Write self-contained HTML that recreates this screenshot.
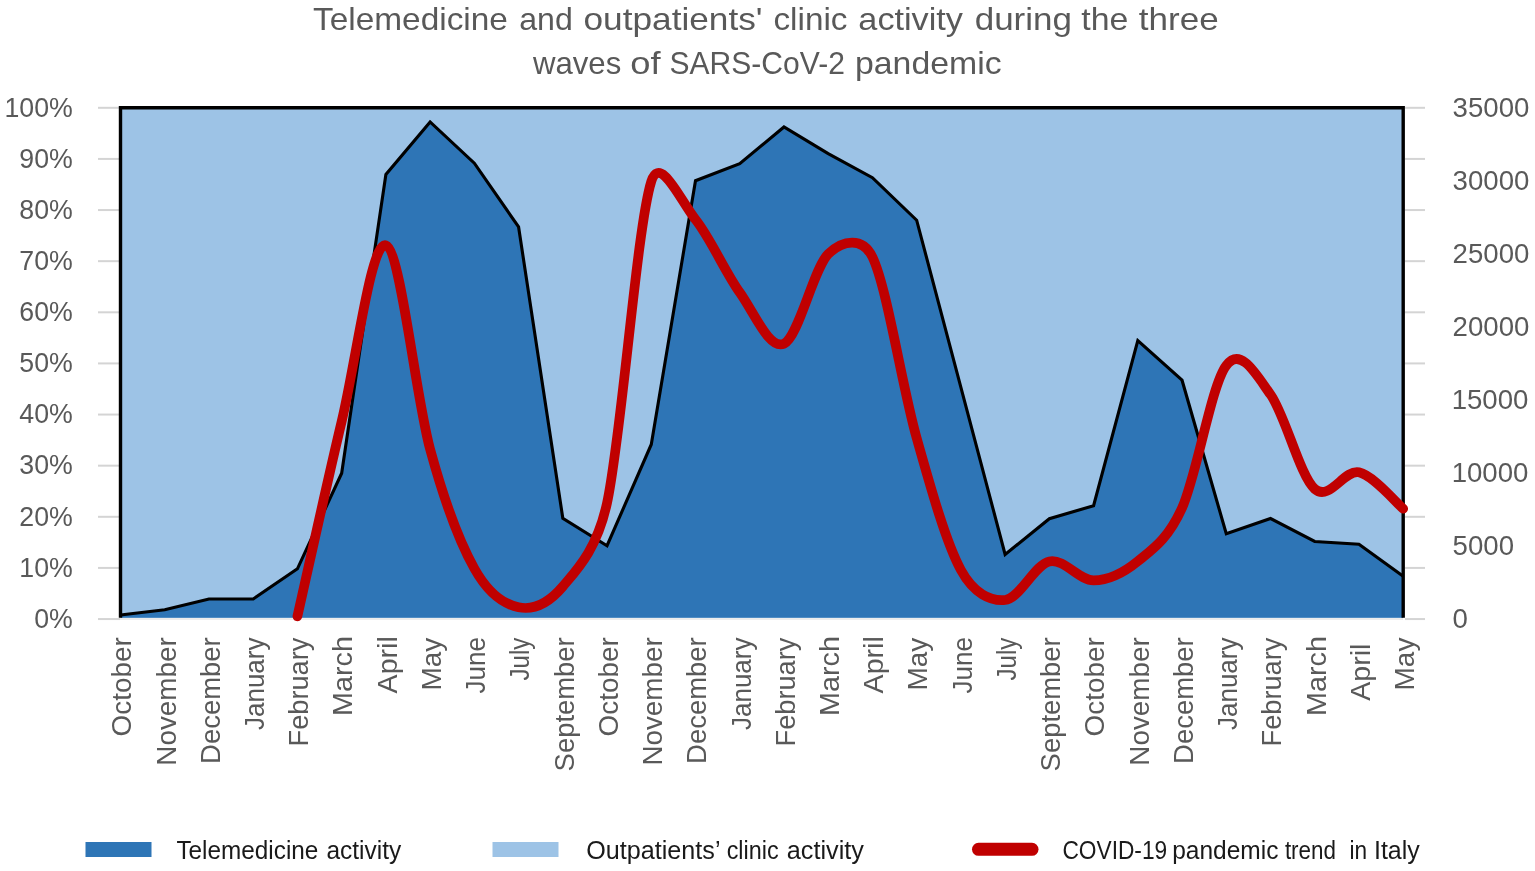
<!DOCTYPE html>
<html lang="en">
<head>
<meta charset="utf-8">
<title>Telemedicine and outpatients' clinic activity</title>
<style>
html,body{margin:0;padding:0;background:#fff;}
body{width:1535px;height:871px;overflow:hidden;}
svg{display:block;}
svg text{font-family:"Liberation Sans",sans-serif;}
.ax{fill:#595959;font-size:27.5px;}
.tk{fill:#595959;font-size:28px;}
.ttl{fill:#595959;font-size:32px;}
.lg{fill:#1a1a1a;font-size:25px;}
</style>
</head>
<body>
<svg width="1535" height="871" viewBox="0 0 1535 871">
<rect x="0" y="0" width="1535" height="871" fill="#ffffff"/>
<g stroke="#d4d4d4" stroke-width="2" fill="none">
<line x1="98" y1="619.05" x2="120" y2="619.05"/><line x1="1405" y1="619.05" x2="1425" y2="619.05"/>
<line x1="98" y1="567.92" x2="120" y2="567.92"/><line x1="1405" y1="567.92" x2="1425" y2="567.92"/>
<line x1="98" y1="516.8" x2="120" y2="516.8"/><line x1="1405" y1="516.8" x2="1425" y2="516.8"/>
<line x1="98" y1="465.67" x2="120" y2="465.67"/><line x1="1405" y1="465.67" x2="1425" y2="465.67"/>
<line x1="98" y1="414.55" x2="120" y2="414.55"/><line x1="1405" y1="414.55" x2="1425" y2="414.55"/>
<line x1="98" y1="363.43" x2="120" y2="363.43"/><line x1="1405" y1="363.43" x2="1425" y2="363.43"/>
<line x1="98" y1="312.3" x2="120" y2="312.3"/><line x1="1405" y1="312.3" x2="1425" y2="312.3"/>
<line x1="98" y1="261.18" x2="120" y2="261.18"/><line x1="1405" y1="261.18" x2="1425" y2="261.18"/>
<line x1="98" y1="210.05" x2="120" y2="210.05"/><line x1="1405" y1="210.05" x2="1425" y2="210.05"/>
<line x1="98" y1="158.93" x2="120" y2="158.93"/><line x1="1405" y1="158.93" x2="1425" y2="158.93"/>
<line x1="98" y1="107.8" x2="120" y2="107.8"/><line x1="1405" y1="107.8" x2="1425" y2="107.8"/>
</g>
<line x1="120" y1="619.05" x2="1403" y2="619.05" stroke="#ededed" stroke-width="2"/>
<rect x="120.5" y="107.8" width="1282.7" height="509.9" fill="#9dc3e6"/>
<polygon points="120.5,615 164.73,609.8 208.96,599 253.19,599 297.42,568.8 341.66,473.2 385.89,174.45 430.12,121.95 474.35,163.2 518.58,226.95 562.81,518.2 607.04,545.7 651.27,444.45 695.5,180.7 739.73,163.7 783.97,126.95 828.2,153.7 872.43,177.7 916.66,220.2 960.89,387.3 1005.12,554.45 1049.35,518.7 1093.58,505.7 1137.81,340.7 1182.04,380.2 1226.28,533.75 1270.51,518.5 1314.74,541.5 1358.97,544.2 1403.2,576.3 1403.2,617.7 120.5,617.7" fill="#2e75b6"/>
<polyline points="120.5,615 164.73,609.8 208.96,599 253.19,599 297.42,568.8 341.66,473.2 385.89,174.45 430.12,121.95 474.35,163.2 518.58,226.95 562.81,518.2 607.04,545.7 651.27,444.45 695.5,180.7 739.73,163.7 783.97,126.95 828.2,153.7 872.43,177.7 916.66,220.2 960.89,387.3 1005.12,554.45 1049.35,518.7 1093.58,505.7 1137.81,340.7 1182.04,380.2 1226.28,533.75 1270.51,518.5 1314.74,541.5 1358.97,544.2 1403.2,576.3" fill="none" stroke="#000" stroke-width="3.1" stroke-linejoin="miter"/>
<polyline points="120.5,617.7 120.5,107.8 1403.2,107.8 1403.2,617.7" fill="none" stroke="#000" stroke-width="3.4" stroke-linejoin="miter"/>
<path d="M297.42,616.3 C304.8,583.83 326.91,483.33 341.66,421.5 C356.4,359.67 371.14,240.67 385.89,245.3 C400.63,249.93 415.37,395.43 430.12,449.3 C444.86,503.17 459.6,542.17 474.35,568.5 C488.72,594.17 503.84,604.3 518.58,607.3 C533.32,610.3 548.07,603.88 562.81,586.5 C577.55,569.12 596.96,549.16 607.04,503 C621.79,435.5 636.53,228.75 651.27,181.5 C659.96,153.67 680.76,201.02 695.5,219.5 C710.25,237.98 724.99,271.7 739.73,292.4 C754.48,313.1 769.22,350.1 783.97,343.7 C798.71,337.3 813.45,268.45 828.2,254 C842.94,239.55 862.82,237.02 872.43,257 C887.17,287.67 901.91,385.83 916.66,438 C931.4,490.17 946.15,543 960.89,570 C973.7,593.45 990.38,601.43 1005.12,600 C1019.86,598.57 1034.61,564.67 1049.35,561.4 C1064.1,558.13 1078.84,580.42 1093.58,580.4 C1108.33,580.38 1123.07,573.37 1137.81,561.3 C1152.56,549.23 1167.79,539.56 1182.04,508 C1196.79,475.37 1211.53,384.42 1226.28,365.5 C1241.02,346.58 1255.76,373.92 1270.51,394.5 C1285.25,415.08 1299.99,476.03 1314.74,489 C1329.48,501.97 1344.23,469.02 1358.97,472.3 C1373.71,475.58 1395.83,502.63 1403.2,508.7" fill="none" stroke="#c00000" stroke-width="9.7" stroke-linecap="round" stroke-linejoin="round"/>
<rect x="85.5" y="842" width="66" height="15" fill="#2e75b6"/>
<rect x="492.5" y="842" width="66" height="15" fill="#9dc3e6"/>
<line x1="978.5" y1="849.3" x2="1032" y2="849.3" stroke="#c00000" stroke-width="13" stroke-linecap="round"/>
<text class="ttl" y="30"><tspan x="313" textLength="194.93" lengthAdjust="spacingAndGlyphs">Telemedicine</tspan> <tspan x="519.2" textLength="53.61" lengthAdjust="spacingAndGlyphs">and</tspan> <tspan x="583.5" textLength="179.02" lengthAdjust="spacingAndGlyphs">outpatients'</tspan> <tspan x="773.46" textLength="74.04" lengthAdjust="spacingAndGlyphs">clinic</tspan> <tspan x="858.33" textLength="104.67" lengthAdjust="spacingAndGlyphs">activity</tspan> <tspan x="974.71" textLength="97.26" lengthAdjust="spacingAndGlyphs">during</tspan> <tspan x="1081.3" textLength="47.04" lengthAdjust="spacingAndGlyphs">the</tspan> <tspan x="1138.8" textLength="79.87" lengthAdjust="spacingAndGlyphs">three</tspan></text>
<text class="ttl" y="74"><tspan x="532.97" textLength="88.3" lengthAdjust="spacingAndGlyphs">waves</tspan> <tspan x="630.26" textLength="30.31" lengthAdjust="spacingAndGlyphs">of</tspan> <tspan x="669.56" textLength="175.29" lengthAdjust="spacingAndGlyphs">SARS-CoV-2</tspan> <tspan x="854.99" textLength="146.61" lengthAdjust="spacingAndGlyphs">pandemic</tspan></text>
<text class="lg" y="859"><tspan x="176.4" textLength="141.98" lengthAdjust="spacingAndGlyphs">Telemedicine</tspan> <tspan x="326.42" textLength="74.79" lengthAdjust="spacingAndGlyphs">activity</tspan></text>
<text class="lg" y="859"><tspan x="586.3" textLength="133.25" lengthAdjust="spacingAndGlyphs">Outpatients’</tspan> <tspan x="726.66" textLength="52" lengthAdjust="spacingAndGlyphs">clinic</tspan> <tspan x="786.79" textLength="77.1" lengthAdjust="spacingAndGlyphs">activity</tspan></text>
<text class="lg" y="859"><tspan x="1062.39" textLength="104.83" lengthAdjust="spacingAndGlyphs">COVID-19</tspan> <tspan x="1172.22" textLength="106.27" lengthAdjust="spacingAndGlyphs">pandemic</tspan> <tspan x="1284.9" textLength="51.11" lengthAdjust="spacingAndGlyphs">trend</tspan> <tspan x="1349.59" textLength="17.62" lengthAdjust="spacingAndGlyphs">in</tspan> <tspan x="1374" textLength="45.8" lengthAdjust="spacingAndGlyphs">Italy</tspan></text>
<text class="tk" x="72.86" y="627.85" text-anchor="end" textLength="38.63" lengthAdjust="spacingAndGlyphs">0%</text>
<text class="tk" x="72.86" y="576.72" text-anchor="end" textLength="53.5" lengthAdjust="spacingAndGlyphs">10%</text>
<text class="tk" x="72.86" y="525.6" text-anchor="end" textLength="53.5" lengthAdjust="spacingAndGlyphs">20%</text>
<text class="tk" x="72.86" y="474.47" text-anchor="end" textLength="53.5" lengthAdjust="spacingAndGlyphs">30%</text>
<text class="tk" x="72.86" y="423.35" text-anchor="end" textLength="53.5" lengthAdjust="spacingAndGlyphs">40%</text>
<text class="tk" x="72.86" y="372.23" text-anchor="end" textLength="53.5" lengthAdjust="spacingAndGlyphs">50%</text>
<text class="tk" x="72.86" y="321.1" text-anchor="end" textLength="53.5" lengthAdjust="spacingAndGlyphs">60%</text>
<text class="tk" x="72.86" y="269.98" text-anchor="end" textLength="53.5" lengthAdjust="spacingAndGlyphs">70%</text>
<text class="tk" x="72.86" y="218.85" text-anchor="end" textLength="53.5" lengthAdjust="spacingAndGlyphs">80%</text>
<text class="tk" x="72.86" y="167.73" text-anchor="end" textLength="53.5" lengthAdjust="spacingAndGlyphs">90%</text>
<text class="tk" x="72.86" y="116.6" text-anchor="end" textLength="68.37" lengthAdjust="spacingAndGlyphs">100%</text>
<text class="tk" x="1452.61" y="627.85" textLength="15.35" lengthAdjust="spacingAndGlyphs">0</text>
<text class="tk" x="1452.61" y="554.81" textLength="61.4" lengthAdjust="spacingAndGlyphs">5000</text>
<text class="tk" x="1451.63" y="481.78" textLength="76.75" lengthAdjust="spacingAndGlyphs">10000</text>
<text class="tk" x="1451.63" y="408.74" textLength="76.75" lengthAdjust="spacingAndGlyphs">15000</text>
<text class="tk" x="1452.61" y="335.71" textLength="76.75" lengthAdjust="spacingAndGlyphs">20000</text>
<text class="tk" x="1452.61" y="262.67" textLength="76.75" lengthAdjust="spacingAndGlyphs">25000</text>
<text class="tk" x="1452.61" y="189.64" textLength="76.75" lengthAdjust="spacingAndGlyphs">30000</text>
<text class="tk" x="1452.61" y="116.6" textLength="76.75" lengthAdjust="spacingAndGlyphs">35000</text>
<text class="ax" x="131.3" y="637.24" text-anchor="end" textLength="99.17" lengthAdjust="spacingAndGlyphs" transform="rotate(-90 131.3 637.24)">October</text>
<text class="ax" x="175.53" y="637.24" text-anchor="end" textLength="128.38" lengthAdjust="spacingAndGlyphs" transform="rotate(-90 175.53 637.24)">November</text>
<text class="ax" x="219.76" y="637.24" text-anchor="end" textLength="126.65" lengthAdjust="spacingAndGlyphs" transform="rotate(-90 219.76 637.24)">December</text>
<text class="ax" x="263.99" y="637.64" text-anchor="end" textLength="92.26" lengthAdjust="spacingAndGlyphs" transform="rotate(-90 263.99 637.64)">January</text>
<text class="ax" x="308.22" y="637.65" text-anchor="end" textLength="108.73" lengthAdjust="spacingAndGlyphs" transform="rotate(-90 308.22 637.65)">February</text>
<text class="ax" x="352.46" y="636.05" text-anchor="end" textLength="79.95" lengthAdjust="spacingAndGlyphs" transform="rotate(-90 352.46 636.05)">March</text>
<text class="ax" x="396.69" y="636.25" text-anchor="end" textLength="57.15" lengthAdjust="spacingAndGlyphs" transform="rotate(-90 396.69 636.25)">April</text>
<text class="ax" x="440.92" y="637.65" text-anchor="end" textLength="52.78" lengthAdjust="spacingAndGlyphs" transform="rotate(-90 440.92 637.65)">May</text>
<text class="ax" x="485.15" y="637.12" text-anchor="end" textLength="56.28" lengthAdjust="spacingAndGlyphs" transform="rotate(-90 485.15 637.12)">June</text>
<text class="ax" x="529.38" y="637.62" text-anchor="end" textLength="42.78" lengthAdjust="spacingAndGlyphs" transform="rotate(-90 529.38 637.62)">July</text>
<text class="ax" x="573.61" y="637.24" text-anchor="end" textLength="134.15" lengthAdjust="spacingAndGlyphs" transform="rotate(-90 573.61 637.24)">September</text>
<text class="ax" x="617.84" y="637.24" text-anchor="end" textLength="99.17" lengthAdjust="spacingAndGlyphs" transform="rotate(-90 617.84 637.24)">October</text>
<text class="ax" x="662.07" y="637.24" text-anchor="end" textLength="128.38" lengthAdjust="spacingAndGlyphs" transform="rotate(-90 662.07 637.24)">November</text>
<text class="ax" x="706.3" y="637.24" text-anchor="end" textLength="126.65" lengthAdjust="spacingAndGlyphs" transform="rotate(-90 706.3 637.24)">December</text>
<text class="ax" x="750.53" y="637.64" text-anchor="end" textLength="92.26" lengthAdjust="spacingAndGlyphs" transform="rotate(-90 750.53 637.64)">January</text>
<text class="ax" x="794.77" y="637.65" text-anchor="end" textLength="108.73" lengthAdjust="spacingAndGlyphs" transform="rotate(-90 794.77 637.65)">February</text>
<text class="ax" x="839" y="636.05" text-anchor="end" textLength="79.95" lengthAdjust="spacingAndGlyphs" transform="rotate(-90 839 636.05)">March</text>
<text class="ax" x="883.23" y="636.25" text-anchor="end" textLength="57.15" lengthAdjust="spacingAndGlyphs" transform="rotate(-90 883.23 636.25)">April</text>
<text class="ax" x="927.46" y="637.65" text-anchor="end" textLength="52.78" lengthAdjust="spacingAndGlyphs" transform="rotate(-90 927.46 637.65)">May</text>
<text class="ax" x="971.69" y="637.12" text-anchor="end" textLength="56.28" lengthAdjust="spacingAndGlyphs" transform="rotate(-90 971.69 637.12)">June</text>
<text class="ax" x="1015.92" y="637.62" text-anchor="end" textLength="42.78" lengthAdjust="spacingAndGlyphs" transform="rotate(-90 1015.92 637.62)">July</text>
<text class="ax" x="1060.15" y="637.24" text-anchor="end" textLength="134.15" lengthAdjust="spacingAndGlyphs" transform="rotate(-90 1060.15 637.24)">September</text>
<text class="ax" x="1104.38" y="637.24" text-anchor="end" textLength="99.17" lengthAdjust="spacingAndGlyphs" transform="rotate(-90 1104.38 637.24)">October</text>
<text class="ax" x="1148.61" y="637.24" text-anchor="end" textLength="128.38" lengthAdjust="spacingAndGlyphs" transform="rotate(-90 1148.61 637.24)">November</text>
<text class="ax" x="1192.84" y="637.24" text-anchor="end" textLength="126.65" lengthAdjust="spacingAndGlyphs" transform="rotate(-90 1192.84 637.24)">December</text>
<text class="ax" x="1237.08" y="637.64" text-anchor="end" textLength="92.26" lengthAdjust="spacingAndGlyphs" transform="rotate(-90 1237.08 637.64)">January</text>
<text class="ax" x="1281.31" y="637.65" text-anchor="end" textLength="108.73" lengthAdjust="spacingAndGlyphs" transform="rotate(-90 1281.31 637.65)">February</text>
<text class="ax" x="1325.54" y="636.05" text-anchor="end" textLength="79.95" lengthAdjust="spacingAndGlyphs" transform="rotate(-90 1325.54 636.05)">March</text>
<text class="ax" x="1369.77" y="643.65" text-anchor="end" textLength="57.15" lengthAdjust="spacingAndGlyphs" transform="rotate(-90 1369.77 643.65)">April</text>
<text class="ax" x="1414" y="637.65" text-anchor="end" textLength="52.78" lengthAdjust="spacingAndGlyphs" transform="rotate(-90 1414 637.65)">May</text>
</svg>
</body>
</html>
